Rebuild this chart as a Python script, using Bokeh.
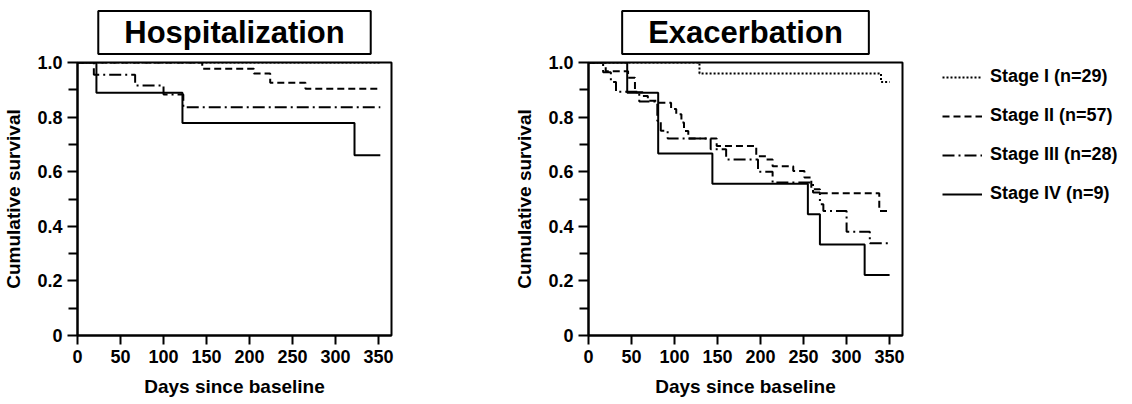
from bokeh.plotting import figure
from bokeh.layouts import row
from bokeh.models import FixedTicker, PrintfTickFormatter, Legend, LegendItem, Title
from bokeh.embed import file_html
from bokeh.resources import INLINE

FONT = "Liberation Sans"

stage_labels = ["Stage I (n=29)", "Stage II (n=57)", "Stage III (n=28)", "Stage IV (n=9)"]
x_ticks = [0, 50, 100, 150, 200, 250, 300, 350]
y_ticks = [0, 0.2, 0.4, 0.6, 0.8, 1.0]
y_minor = [0.1, 0.3, 0.5, 0.7, 0.9]

# Hospitalization (days, cumulative survival after step)
hosp_I_t = [0, 352]
hosp_I_s = [1.0, 1.0]
hosp_II_t = [0, 145, 205, 224, 265, 352]
hosp_II_s = [1.0, 0.977, 0.960, 0.926, 0.904, 0.904]
hosp_III_t = [0, 19, 67, 100, 123, 352]
hosp_III_s = [1.0, 0.955, 0.916, 0.883, 0.836, 0.836]
hosp_IV_t = [0, 22, 122, 322, 352]
hosp_IV_s = [1.0, 0.889, 0.778, 0.660, 0.660]

# Exacerbation
exac_I_t = [0, 129, 340, 350]
exac_I_s = [1.0, 0.960, 0.929, 0.929]
exac_II_t = [0, 20, 46, 54, 63, 69, 81, 96, 102, 108, 111, 116, 149, 195, 207,
             214, 238, 251, 259, 269, 338, 348]
exac_II_s = [1.0, 0.968, 0.944, 0.891, 0.877, 0.860, 0.853, 0.830, 0.810, 0.780,
             0.749, 0.722, 0.694, 0.657, 0.645, 0.620, 0.603, 0.579, 0.536, 0.521,
             0.456, 0.456]
exac_III_t = [0, 17, 26, 32, 59, 80, 84, 92, 142, 160, 197, 214, 261, 269, 273,
              300, 327, 352]
exac_III_s = [1.0, 0.964, 0.929, 0.893, 0.857, 0.786, 0.750, 0.722, 0.682, 0.645,
              0.600, 0.560, 0.524, 0.481, 0.456, 0.380, 0.338, 0.338]
exac_IV_t = [0, 45, 81, 144, 255, 269, 321, 350]
exac_IV_s = [1.0, 0.889, 0.667, 0.556, 0.444, 0.333, 0.222, 0.222]

styles = [("2 2", 2), ("7 4", 2), ("12 4 2 4", 2), ("solid", 2)]


def make_fig(title, series, min_right):
    p = figure(frame_width=314, frame_height=273, x_range=(0, 365), y_range=(0, 1.0),
               output_backend="svg", toolbar_location=None,
               min_border_left=70, min_border_right=min_right,
               min_border_top=55, min_border_bottom=60)
    p.title = Title(text=title, align="center", text_font=FONT, text_font_size="31px",
                    text_font_style="bold", text_color="black",
                    border_line_color="black", border_line_width=2,
                    background_fill_color="white", padding=(26, 4), standoff=17)
    p.xgrid.visible = False
    p.ygrid.visible = False
    p.outline_line_color = "black"
    p.outline_line_width = 2
    p.background_fill_color = "white"
    p.border_fill_color = "white"
    for ax in (p.xaxis[0], p.yaxis[0]):
        ax.axis_line_width = 2
        ax.axis_line_color = "black"
        ax.major_tick_line_width = 2
        ax.minor_tick_line_width = 2
        ax.major_tick_in = 0
        ax.minor_tick_in = 0
        ax.major_label_text_font = FONT
        ax.major_label_text_font_size = "18px"
        ax.major_label_text_font_style = "bold"
        ax.major_label_text_color = "black"
        ax.axis_label_text_font = FONT
        ax.axis_label_text_font_size = "19px"
        ax.axis_label_text_font_style = "bold"
        ax.axis_label_text_color = "black"
    p.xaxis.ticker = FixedTicker(ticks=x_ticks, minor_ticks=[])
    p.xaxis.major_tick_out = 9
    p.xaxis.axis_label = "Days since baseline"
    p.xaxis.axis_label_standoff = 10
    p.yaxis.ticker = FixedTicker(ticks=y_ticks, minor_ticks=y_minor)
    p.yaxis.formatter = PrintfTickFormatter(format="%.1f")
    p.yaxis.major_label_overrides = {0: "0"}
    p.yaxis.major_tick_out = 10
    p.yaxis.minor_tick_out = 9
    p.yaxis.axis_label = "Cumulative survival"
    p.yaxis.axis_label_standoff = 10
    rends = []
    for (t, s), (dash, w) in zip(series, styles):
        r = p.step(t, s, mode="after", line_color="black", line_width=w, line_dash=dash)
        rends.append(r)
    return p, rends


p1, _ = make_fig("Hospitalization",
                 [(hosp_I_t, hosp_I_s), (hosp_II_t, hosp_II_s),
                  (hosp_III_t, hosp_III_s), (hosp_IV_t, hosp_IV_s)], 120)
p2, rends = make_fig("Exacerbation",
                     [(exac_I_t, exac_I_s), (exac_II_t, exac_II_s),
                      (exac_III_t, exac_III_s), (exac_IV_t, exac_IV_s)], 220)

legend = Legend(items=[LegendItem(label=l, renderers=[r]) for l, r in zip(stage_labels, rends)],
                location=(40, 131), glyph_width=40, glyph_height=20, label_height=20,
                label_standoff=8, spacing=18, padding=0, margin=0,
                border_line_alpha=0, background_fill_alpha=0,
                label_text_font=FONT, label_text_font_size="18px",
                label_text_font_style="bold", label_text_color="black")
p2.add_layout(legend, "right")

layout = row(p1, p2)
open("out.html", "w").write(file_html(layout, INLINE))
